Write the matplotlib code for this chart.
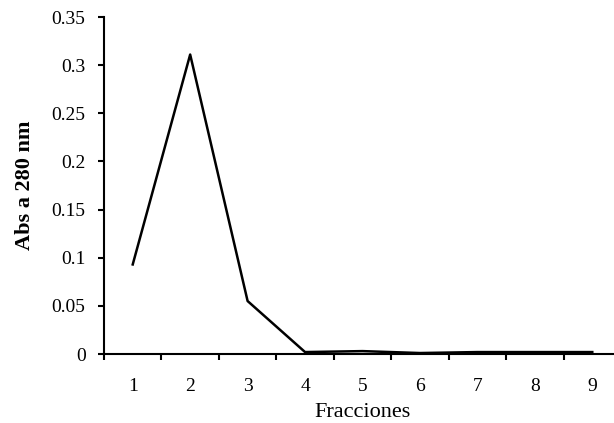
import matplotlib
matplotlib.use('Agg')
import matplotlib.pyplot as plt

fracciones = [1, 2, 3, 4, 5, 6, 7, 8, 9]
absorbancia = [0.093, 0.311, 0.055, 0.002, 0.003, 0.001, 0.002, 0.002, 0.002]
yticks = [0, 0.05, 0.1, 0.15, 0.2, 0.25, 0.3, 0.35]
ytick_labels = ['0', '0.05', '0.1', '0.15', '0.2', '0.25', '0.3', '0.35']

plt.rcParams['font.family'] = ['Liberation Serif', 'DejaVu Serif']

fig = plt.figure(figsize=(6.14, 4.23), dpi=100)
# category axis runs a little past the right edge of the image, as in the original
ax = fig.add_axes([104 / 614, 69 / 423, 517 / 614, 337 / 423])

ax.plot(fracciones, absorbancia, color='black', linewidth=1.8)

ax.set_xlim(0.5, 9.5)
ax.set_ylim(0, 0.35)
ax.set_xticks(fracciones)
ax.set_xticks([x + 0.5 for x in range(0, 10)], minor=True)
ax.set_yticks(yticks)
ax.set_yticklabels(ytick_labels)

ax.tick_params(axis='x', which='major', length=0, labelsize=14, pad=17)
ax.tick_params(axis='x', which='minor', length=4.3, width=1.5, direction='out')
ax.tick_params(axis='y', length=4.3, width=1.5, direction='out', labelsize=14, pad=9)

for side in ['top', 'right']:
    ax.spines[side].set_visible(False)
for side in ['left', 'bottom']:
    ax.spines[side].set_linewidth(1.5)

ax.set_xlabel('Fracciones', fontsize=16, labelpad=6)
ax.set_ylabel('Abs a 280 nm', fontsize=16, fontweight='bold', labelpad=12)

fig.savefig('out.png', dpi=100)
